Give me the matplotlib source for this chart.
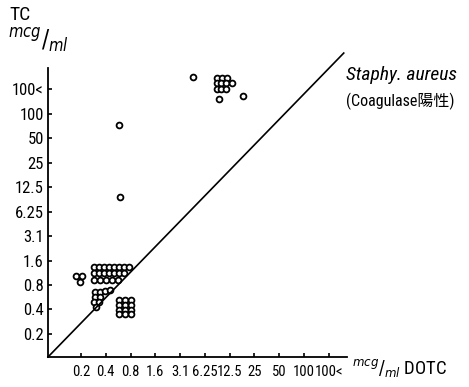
import matplotlib
matplotlib.use('Agg')
import matplotlib.pyplot as plt

plt.rcParams['font.family'] = ['Roboto Condensed', 'Liberation Sans Narrow', 'DejaVu Sans', 'Noto Sans CJK JP']
plt.rcParams['font.stretch'] = 'condensed'

# tick categories (same on both axes), placed at index 1..11
labels = ['0.2', '0.4', '0.8', '1.6', '3.1', '6.25', '12.5', '25', '50', '100', '100<']

# points, in category-index units
left_x = [0.80, 1.04, 0.96]
left_y = [3.37, 3.37, 3.12]

row1_x = [1.52, 1.73, 1.93, 2.13, 2.33, 2.53, 2.73, 2.94]
row2_x = [1.52, 1.73, 1.93, 2.13, 2.33, 2.53, 2.73]
row3_x = [1.52, 1.77, 2.01, 2.25, 2.49]

diag_x = [1.56, 1.77, 1.97, 2.17, 1.56, 1.77, 1.52, 1.73, 1.60]
diag_y = [2.71, 2.71, 2.76, 2.80, 2.51, 2.51, 2.31, 2.31, 2.10]

box_x = [2.53, 2.77, 3.02] * 4
box_y = [2.39] * 3 + [2.18] * 3 + [1.98] * 3 + [1.82] * 3

single_x = [2.53, 2.57, 5.52, 7.53, 6.55]
single_y = [9.53, 6.59, 11.49, 10.71, 10.59]

top_x = [6.48, 6.69, 6.89, 6.48, 6.65, 6.85, 7.09, 6.48, 6.65, 6.85]
top_y = [11.45] * 3 + [11.24] * 4 + [11.0] * 3

xs = left_x + row1_x + row2_x + row3_x + diag_x + box_x + single_x + top_x
ys = (left_y + [3.73] * len(row1_x) + [3.49] * len(row2_x) + [3.20] * len(row3_x)
      + diag_y + box_y + single_y + top_y)

fig = plt.figure(figsize=(4.69, 3.87), dpi=100)
ax = fig.add_axes([0.1023, 0.0775, 0.6375, 0.7468])

ax.plot(xs, ys, 'o', mfc='white', mec='black', ms=4.2, mew=1.3, clip_on=False)
ax.plot([-0.33, 11.6], [0.06, 12.47], color='black', lw=1.2, clip_on=False)

ax.set_xlim(-0.33, 11.73)
ax.set_ylim(0.06, 11.86)
pos = list(range(1, 12))
ax.set_xticks(pos)
ax.set_xticklabels(labels, fontsize=10.5)
ax.set_yticks(pos)
ax.set_yticklabels(labels, fontsize=12)
ax.tick_params(direction='in', length=3, width=1.2, pad=3)
ax.tick_params(axis='x', pad=6)
for s in ['top', 'right']:
    ax.spines[s].set_visible(False)
for s in ['left', 'bottom']:
    ax.spines[s].set_linewidth(1.3)

fig.text(9 / 469, 1 - 15 / 387, 'TC', fontsize=14, va='center')
fig.text(8 / 469, 1 - 41 / 387, r'$^{mcg}/_{ml}$', fontsize=17, va='center')
fig.text(352 / 469, 1 - 369 / 387, r'$^{mcg}/_{ml}$ DOTC', fontsize=13.5, va='center')
fig.text(346 / 469, 1 - 75 / 387, 'Staphy. aureus', fontsize=14, style='italic', va='center')
fig.text(346 / 469, 1 - 101 / 387, '(Coagulase陽性)', fontsize=11.5, va='center')

fig.savefig('out.png', dpi=100)
